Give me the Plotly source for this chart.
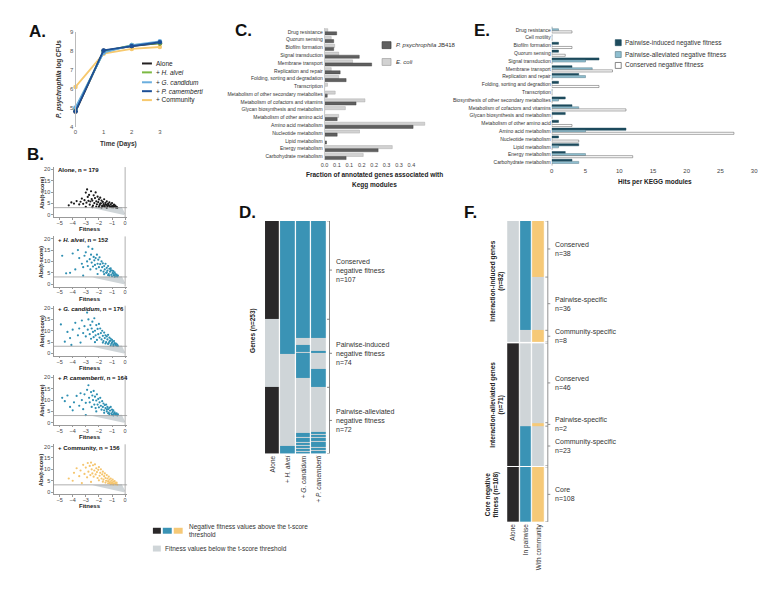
import plotly.graph_objects as go
import numpy as np

W, H = 771, 600
FONT = "Arial"


def fx(p):
    return p / W


def fy(p):
    return 1 - p / H


# ---------------- Panel A data ----------------
days = [0, 1, 2, 3]
cfu_alone = [4.8, 8.0, 8.25, 8.4]
cfu_halvei = [4.95, 7.95, 8.3, 8.4]
cfu_gcand = [5.02, 7.9, 8.3, 8.5]
cfu_pcam = [4.82, 8.02, 8.25, 8.45]
cfu_comm = [6.1, 7.85, 8.1, 8.2]
A_names = ["Alone", "+ <i>H. alvei</i>", "+ <i>G. candidum</i>", "+ <i>P. camemberti</i>", "+ Community"]
A_colors = ["#231f20", "#7cb943", "#6aaede", "#1c4f96", "#f7c96e"]
A_ticks_y = [4, 5, 6, 7, 8, 9]

# ---------------- Panel B data ----------------
B_titles = ["<b>Alone, n = 179</b>", "<b>+ <i>H. alvei</i>, n = 152</b>",
            "<b>+ <i>G. candidum</i>, n = 176</b>", "<b>+ <i>P. camemberti</i>, n = 164</b>",
            "<b>+ Community, n = 156</b>"]
B_colors = ["#1a1a1a", "#2e8fb2", "#2e8fb2", "#2e8fb2", "#f5c56e"]
B_threshold = 3.2
B_wedge_x = [-2.5, -0.25, 0.0, -0.1]
B_wedge_y = [3.0, 3.5, 0.5, 0.0]
B_alone = [(-4.3, 4.2), (-4.1, 5.5), (-3.9, 5.0), (-3.7, 6.1), (-3.5, 4.6), (-3.4, 5.8), (-3.3, 7.2),
           (-3.2, 4.9), (-3.1, 6.5), (-3.0, 9.8), (-2.95, 5.4), (-2.9, 11.2), (-2.85, 7.9), (-2.8, 6.2),
           (-2.75, 8.8), (-2.7, 4.5), (-2.65, 5.9), (-2.6, 10.4), (-2.55, 7.0), (-2.5, 6.3), (-2.45, 4.1),
           (-2.4, 8.6), (-2.35, 5.2), (-2.3, 7.4), (-2.25, 9.9), (-2.2, 6.0), (-2.15, 4.7), (-2.1, 8.0),
           (-2.05, 5.6), (-2.0, 6.8), (-1.95, 4.3), (-1.9, 7.6), (-1.85, 5.1), (-1.8, 6.3), (-1.75, 4.0),
           (-1.7, 5.7), (-1.65, 4.8), (-1.6, 6.9), (-1.55, 3.6), (-1.5, 5.3), (-1.45, 4.4), (-1.4, 6.0),
           (-1.35, 3.9), (-1.3, 5.0), (-1.25, 4.2), (-1.2, 5.5), (-1.15, 3.5), (-1.1, 4.6), (-1.05, 3.8),
           (-1.0, 5.2), (-0.95, 4.0), (-0.9, 3.4), (-0.85, 4.5), (-0.8, 3.7), (-0.75, 4.1), (-0.7, 3.3),
           (-0.65, 3.6), (-0.6, 3.2), (-2.0, 3.5), (-1.8, 3.3), (-2.5, 3.4), (-3.0, 3.6), (-1.6, 4.2),
           (-1.4, 3.2), (-1.2, 3.9), (-1.0, 3.4), (-1.7, 3.8), (-1.3, 4.4), (-0.9, 3.9), (-2.2, 3.7),
           (-1.9, 4.9), (-1.5, 4.7)]
B_halvei = [(-4.8, 12.5), (-4.5, 4.8), (-4.2, 5.0), (-4.0, 13.5), (-3.8, 6.5), (-3.6, 15.0), (-3.5, 11.5),
            (-3.3, 9.0), (-3.2, 7.5), (-3.1, 12.5), (-3.0, 14.0), (-2.9, 10.0), (-2.85, 8.0), (-2.8, 16.5),
            (-2.7, 11.0), (-2.65, 6.5), (-2.6, 13.0), (-2.55, 9.5), (-2.5, 15.5), (-2.45, 7.8), (-2.4, 12.0),
            (-2.35, 10.5), (-2.3, 8.5), (-2.25, 11.5), (-2.2, 6.8), (-2.15, 13.0), (-2.1, 9.0), (-2.05, 10.8),
            (-2.0, 7.5), (-1.95, 11.8), (-1.9, 8.8), (-1.85, 6.0), (-1.8, 10.0), (-1.75, 7.5), (-1.7, 9.2),
            (-1.65, 5.5), (-1.6, 8.0), (-1.55, 6.5), (-1.5, 9.0), (-1.45, 5.0), (-1.4, 7.2), (-1.35, 6.0),
            (-1.3, 8.0), (-1.25, 4.5), (-1.2, 6.8), (-1.15, 5.5), (-1.1, 7.0), (-1.05, 4.2), (-1.0, 6.0),
            (-0.95, 5.0), (-0.9, 5.8), (-0.85, 4.0), (-0.8, 5.2), (-0.75, 4.5), (-0.7, 3.6), (-0.65, 4.2),
            (-0.6, 3.4), (-0.55, 3.8), (-1.3, 4.0), (-1.6, 4.4), (-1.0, 3.5), (-0.9, 4.6), (-1.2, 3.8),
            (-1.4, 5.2), (-1.1, 6.2), (-0.8, 3.3), (-2.1, 4.5), (-3.2, 3.8)]
B_gcand = [(-4.9, 12.8), (-4.6, 5.2), (-4.4, 9.5), (-4.2, 6.8), (-4.0, 10.5), (-3.8, 13.5), (-3.6, 8.0),
           (-3.5, 11.0), (-3.4, 4.8), (-3.3, 14.5), (-3.2, 9.0), (-3.1, 12.0), (-3.0, 7.5), (-2.9, 18.0),
           (-2.85, 10.5), (-2.8, 15.0), (-2.7, 8.5), (-2.65, 12.5), (-2.6, 6.5), (-2.55, 11.0), (-2.5, 14.0),
           (-2.45, 9.5), (-2.4, 7.2), (-2.35, 15.5), (-2.3, 10.0), (-2.25, 8.0), (-2.2, 12.5), (-2.15, 6.0),
           (-2.1, 10.8), (-2.05, 8.5), (-2.0, 13.0), (-1.95, 7.0), (-1.9, 11.0), (-1.85, 9.0), (-1.8, 6.2),
           (-1.75, 10.0), (-1.7, 7.8), (-1.65, 5.5), (-1.6, 9.2), (-1.55, 6.8), (-1.5, 8.0), (-1.45, 5.0),
           (-1.4, 7.5), (-1.35, 6.2), (-1.3, 8.2), (-1.25, 4.6), (-1.2, 7.0), (-1.15, 5.6), (-1.1, 6.5),
           (-1.05, 4.3), (-1.0, 6.0), (-0.95, 5.2), (-0.9, 4.0), (-0.85, 5.5), (-0.8, 4.6), (-0.75, 3.8),
           (-0.7, 4.4), (-0.65, 3.5), (-0.6, 3.9), (-0.55, 3.3), (-1.3, 4.2), (-1.1, 3.6), (-0.9, 3.4),
           (-1.5, 4.4), (-1.7, 4.8), (-1.2, 5.2), (-1.0, 4.8), (-2.3, 5.0), (-4.1, 3.8)]
B_pcam = [(-4.8, 11.0), (-4.6, 9.5), (-4.4, 12.0), (-4.2, 7.0), (-4.0, 5.5), (-3.9, 9.0), (-3.7, 11.8),
          (-3.5, 7.5), (-3.4, 13.0), (-3.3, 10.0), (-3.2, 6.0), (-3.1, 12.5), (-3.0, 8.8), (-2.9, 14.5),
          (-2.8, 16.5), (-2.75, 11.0), (-2.7, 9.0), (-2.6, 13.5), (-2.55, 7.0), (-2.5, 12.0), (-2.45, 10.0),
          (-2.4, 14.0), (-2.35, 8.0), (-2.3, 11.5), (-2.25, 6.5), (-2.2, 9.8), (-2.15, 12.5), (-2.1, 8.0),
          (-2.05, 10.5), (-2.0, 6.8), (-1.95, 9.0), (-1.9, 11.0), (-1.85, 7.5), (-1.8, 5.8), (-1.75, 9.5),
          (-1.7, 7.0), (-1.65, 8.5), (-1.6, 5.5), (-1.55, 7.8), (-1.5, 6.5), (-1.45, 8.0), (-1.4, 5.0),
          (-1.35, 7.0), (-1.3, 6.0), (-1.25, 4.5), (-1.2, 6.6), (-1.15, 5.4), (-1.1, 7.0), (-1.05, 4.2),
          (-1.0, 5.8), (-0.95, 4.8), (-0.9, 5.5), (-0.85, 3.9), (-0.8, 4.6), (-0.75, 4.0), (-0.7, 3.5),
          (-0.65, 4.2), (-0.6, 3.3), (-0.55, 3.7), (-1.3, 4.2), (-1.0, 3.6), (-1.6, 4.4), (-1.2, 3.8),
          (-0.9, 3.3), (-2.2, 5.0), (-3.0, 3.4), (-1.4, 5.9)]
B_comm = [(-4.3, 6.0), (-4.0, 5.0), (-3.9, 8.5), (-3.7, 10.5), (-3.5, 7.0), (-3.4, 9.5), (-3.2, 12.0),
          (-3.1, 8.0), (-3.0, 10.8), (-2.9, 6.5), (-2.85, 12.8), (-2.8, 9.0), (-2.7, 11.5), (-2.65, 7.5),
          (-2.6, 13.0), (-2.55, 10.0), (-2.5, 8.2), (-2.45, 11.8), (-2.4, 6.8), (-2.35, 9.5), (-2.3, 12.2),
          (-2.25, 7.8), (-2.2, 10.5), (-2.15, 8.8), (-2.1, 6.2), (-2.05, 9.8), (-2.0, 11.0), (-1.95, 7.2),
          (-1.9, 8.5), (-1.85, 10.0), (-1.8, 6.0), (-1.75, 7.8), (-1.7, 9.0), (-1.65, 5.5), (-1.6, 7.0),
          (-1.55, 8.2), (-1.5, 6.2), (-1.45, 5.0), (-1.4, 7.5), (-1.35, 6.0), (-1.3, 4.8), (-1.25, 6.8),
          (-1.2, 5.5), (-1.15, 4.4), (-1.1, 6.0), (-1.05, 5.0), (-1.0, 4.2), (-0.95, 5.5), (-0.9, 4.6),
          (-0.85, 3.8), (-0.8, 4.8), (-0.75, 4.0), (-0.7, 3.5), (-0.65, 4.2), (-0.6, 3.3), (-1.3, 3.9),
          (-1.1, 3.5), (-1.5, 4.2), (-1.7, 4.6), (-0.9, 3.3), (-1.2, 4.0), (-2.0, 5.2), (-2.6, 4.5),
          (-3.3, 4.0), (-1.0, 3.7)]
B_points = [B_alone, B_halvei, B_gcand, B_pcam, B_comm]

# ---------------- Panel C data ----------------
C_cats = ["Drug resistance", "Quorum sensing", "Biofilm formation", "Signal transduction",
          "Membrane transport", "Replication and repair", "Folding, sorting and degradation",
          "Transcription", "Metabolism of other secondary metabolites",
          "Metabolism of cofactors and vitamins", "Glycan biosynthesis and metabolism",
          "Metabolism of other amino acid", "Amino acid metabolism", "Nucleotide metabolism",
          "Lipid metabolism", "Energy metabolism", "Carbohydrate metabolism"]
C_psych = [0.049, 0.037, 0.037, 0.14, 0.19, 0.063, 0.087, 0.0, 0.011, 0.127, 0.0, 0.051, 0.357,
           0.051, 0.008, 0.216, 0.087]
C_ecoli = [0.013, 0.027, 0.041, 0.057, 0.113, 0.027, 0.057, 0.012, 0.043, 0.163, 0.084, 0.057, 0.404,
           0.141, 0.0, 0.273, 0.156]
C_tickvals = [0, 0.05, 0.1, 0.15, 0.2, 0.25, 0.3, 0.35]
C_ticktext = ["0.0", "0.1", "0.1", "0.2", "0.2", "0.3", "0.3", "0.4"]

# ---------------- Panel E data ----------------
E_cats = ["Drug resistance", "Cell motility", "Biofilm formation", "Quorum sensing", "Signal transduction",
          "Membrane transport", "Replication and repair", "Folding, sorting and degradtion", "Transcription",
          "Biosynthesis of other secondary metabolites", "Metabolism of cofactors and vitamins",
          "Glycan biosynthesis and metabolism", "Metabolism of other amino acid", "Amino acid metabolism",
          "Nucleotide metabolism", "Lipid metabolism", "Energy metabolism", "Carbohydrate metabolism"]
E_induced = [0, 0, 1, 1, 7, 3, 4, 1, 0, 2, 3, 2, 1, 11, 1, 4, 2, 3]
E_alleviated = [1, 0, 0, 0, 5, 6, 5, 0, 0, 1, 4, 0, 0, 5, 0, 1, 5, 4]
E_conserved = [3, 0, 3, 2, 0, 9, 0, 7, 0, 0, 11, 0, 3, 27, 4, 0, 12, 0]
E_names = ["Pairwise-induced negative fitness", "Pairwise-alleviated negative fitness",
           "Conserved negative fitness"]

# ---------------- Panel D data ----------------
D_n = 253
D_group_sizes = [107, 74, 72]
D_group_labels = ["Conserved<br>negative fitness<br>n=107", "Pairwise-induced<br>negative fitness<br>n=74",
                  "Pairwise-alleviated<br>negative fitness<br>n=72"]
D_columns = ["Alone", "+ <i>H. alvei</i>", "+ <i>G. candidum</i>", "+ <i>P. camemberti</i>"]
D_alone_black = [(0, 106), (181, 252)]
D_halvei_blue = [(0, 144), (245, 252)]
D_gcand_blue = [(0, 126), (135, 141), (144, 170), (230, 234), (236, 239), (241, 243), (245, 246),
                (248, 249), (251, 252)]
D_pcam_blue = [(0, 126), (141, 143), (161, 180), (229, 231), (233, 234), (236, 238), (240, 241),
               (243, 245), (247, 248), (250, 252)]

# ---------------- Panel F data ----------------
F_columns = ["Alone", "In pairwise", "With community"]
F_induced_names = ["Conserved", "Pairwise-specific", "Community-specific"]
F_induced_sizes = [38, 36, 8]
F_induced_codes = [(0, 2, 3), (0, 2, 0), (0, 0, 3)]
F_allev_names = ["Conserved", "Pairwise-specific", "Community-specific"]
F_allev_sizes = [46, 2, 23]
F_allev_codes = [(1, 0, 0), (1, 0, 3), (1, 2, 0)]
F_core_names = ["Core"]
F_core_sizes = [108]
F_core_codes = [(1, 2, 3)]
F_block_titles = ["Interaction-induced genes<br>(n=82)", "Interaction-alleviated genes<br>(n=71)",
                  "Core negative<br>fitness (n=108)"]

# ---------------- colours ----------------
GRAY = "#cfd5d8"
BLACK = "#2a2829"
BLUE = "#3a93b5"
YELLOW = "#f6c977"
CS = [[0, GRAY], [1 / 6, GRAY], [1 / 6, BLACK], [0.5, BLACK], [0.5, BLUE], [5 / 6, BLUE],
      [5 / 6, YELLOW], [1, YELLOW]]
TXT = "#333333"

fig = go.Figure()
shapes = []
anns = []


def ann(x, y, text, size=7, xanchor="left", yanchor="middle", color=TXT, angle=0, align="left"):
    anns.append(dict(x=fx(x), y=fy(y), xref="paper", yref="paper", text=text, showarrow=False,
                     xanchor=xanchor, yanchor=yanchor, textangle=angle, align=align, borderpad=0,
                     font=dict(family=FONT, size=size, color=color)))


def hline_px(x0, x1, y, color, width=2):
    shapes.append(dict(type="line", xref="paper", yref="paper", x0=fx(x0), x1=fx(x1), y0=fy(y), y1=fy(y),
                       line=dict(color=color, width=width)))


def rect_px(x0, y0, x1, y1, fill, line="rgba(0,0,0,0)"):
    shapes.append(dict(type="rect", xref="paper", yref="paper", x0=fx(x0), x1=fx(x1), y0=fy(y1), y1=fy(y0),
                       fillcolor=fill, line=dict(color=line, width=0.7)))


# ================= Panel A =================
A_series = [cfu_alone, cfu_halvei, cfu_gcand, cfu_pcam, cfu_comm]
for idx in [4, 0, 1, 2, 3]:
    fig.add_trace(go.Scatter(x=days, y=A_series[idx], mode="lines+markers",
                             line=dict(color=A_colors[idx], width=1.8),
                             marker=dict(color=A_colors[idx], size=4.5), cliponaxis=False,
                             showlegend=False, xaxis="x", yaxis="y"))
lay = dict(
    xaxis=dict(domain=[fx(64), fx(149)], range=[0, 3], tickvals=days, showgrid=False, zeroline=False,
               showline=False, ticks="", tickfont=dict(size=6, color="#555"), anchor="y"),
    yaxis=dict(domain=[fy(117), fy(21)], range=[4, 9], tickvals=A_ticks_y, showgrid=False, zeroline=False,
               showline=True, linecolor="#bbbbbb", linewidth=0.8, ticks="",
               tickfont=dict(size=6, color="#555"), anchor="x"),
)
ann(107, 134, "<b>Time (Days)</b>", size=6.5, xanchor="center")
ann(48, 69, "<b><i>P. psychrophila</i> log CFUs</b>", size=6.5, xanchor="center", angle=-90)
A_legend_y = [53, 62, 72, 81, 90]
for name, col, yy in zip(A_names, A_colors, A_legend_y):
    hline_px(131, 141, yy, col, 2)
    ann(144, yy, name, size=6.5, color="#222")

# ================= Panel B =================
for i in range(5):
    k = i + 2
    off = 70 * i
    xs = [p[0] for p in B_points[i]]
    ys = [p[1] for p in B_points[i]]
    fig.add_trace(go.Scatter(x=B_wedge_x, y=B_wedge_y, fill="toself", fillcolor=GRAY, mode="lines",
                             line=dict(width=0, color=GRAY), showlegend=False, hoverinfo="skip",
                             xaxis=f"x{k}", yaxis=f"y{k}"))
    fig.add_trace(go.Scatter(x=xs, y=ys, mode="markers", marker=dict(size=2.2, color=B_colors[i]),
                             showlegend=False, xaxis=f"x{k}", yaxis=f"y{k}"))
    lay[f"xaxis{k}"] = dict(domain=[fx(42), fx(116)], range=[-5.45, 0.15], tickvals=[-5, -4, -3, -2, -1, 0],
                            showgrid=False, zeroline=False, showline=True, linecolor="#999", linewidth=0.7,
                            ticks="outside", ticklen=1.5, tickcolor="#999", ticklabelstandoff=-1,
                            tickfont=dict(size=5.5, color="#444"), anchor=f"y{k}")
    lay[f"yaxis{k}"] = dict(domain=[fy(208.3 + off), fy(157.7 + off)], range=[-1, 21],
                            tickvals=[0, 5, 10, 15, 20], showgrid=False, zeroline=False, showline=True,
                            linecolor="#999", linewidth=0.7, ticks="outside", ticklen=1.5, tickcolor="#999",
                            tickfont=dict(size=5.5, color="#444"), anchor=f"x{k}")
    shapes.append(dict(type="line", xref=f"x{k} domain", yref=f"y{k}", x0=0, x1=1, y0=B_threshold,
                       y1=B_threshold, line=dict(color="#9a9a9a", width=0.8)))
    shapes.append(dict(type="line", xref=f"x{k}", yref=f"y{k} domain", x0=0, x1=0, y0=0, y1=1,
                       line=dict(color="#9a9a9a", width=0.8)))
    ann(45, 161 + off, B_titles[i], size=6, color="#111")
    ann(79, 220.5 + off, "<b>Fitness</b>", size=6, xanchor="center", color="#222")
    ann(30, 183 + off, "<b>Abs(t-score)</b>", size=5.5, xanchor="center", angle=-90, color="#222")

# ================= Panel C =================
fig.add_trace(go.Bar(y=C_cats, x=C_ecoli, orientation="h", showlegend=False,
                     marker=dict(color="#d2d2d2", line=dict(color="#a0a0a0", width=0.4)),
                     xaxis="x7", yaxis="y7"))
fig.add_trace(go.Bar(y=C_cats, x=C_psych, orientation="h", showlegend=False,
                     marker=dict(color="#606060", line=dict(color="#3a3a3a", width=0.4)),
                     xaxis="x7", yaxis="y7"))
lay["xaxis7"] = dict(domain=[fx(315), fx(420)], range=[0, 0.42], tickvals=C_tickvals, ticktext=C_ticktext,
                     showgrid=False, zeroline=False, showline=False, ticks="",
                     tickfont=dict(size=5.5, color="#444"), anchor="y7")
lay["yaxis7"] = dict(domain=[fy(150.9), fy(17.06)], categoryorder="array", categoryarray=C_cats,
                     autorange="reversed", showgrid=False, zeroline=False, showline=True, linecolor="#cccccc",
                     linewidth=0.6, ticks="", tickfont=dict(size=5, color="#333"), anchor="x7")
ann(365, 166, "<b>Fraction of annotated genes associated with</b>", size=6.5, xanchor="center", color="#222")
ann(365, 176, "<b>Kegg modules</b>", size=6.5, xanchor="center", color="#222")
rect_px(373, 31, 382, 38, "#606060", "#3a3a3a")
ann(386, 34, "<i>P. psychrophila</i> JB418", size=6)
rect_px(373, 48, 382, 55, "#d2d2d2", "#a0a0a0")
ann(386, 52, "<i>E. coli</i>", size=6)

# ================= Panel E =================
E_cols = ["#1d4b5d", "#8fbfd0", "#ffffff"]
E_lines = ["#1d4b5d", "#5d7f8c", "#555555"]
for vals, c, lc in zip([E_induced, E_alleviated, E_conserved], E_cols, E_lines):
    fig.add_trace(go.Bar(y=E_cats, x=vals, orientation="h", showlegend=False,
                         marker=dict(color=c, line=dict(color=lc, width=0.5)), xaxis="x8", yaxis="y8"))
lay["xaxis8"] = dict(domain=[fx(544), fx(751.4)], range=[0, 30.5], tickvals=[0, 5, 10, 15, 20, 25, 30],
                     showgrid=False, zeroline=False, showline=False, ticks="",
                     tickfont=dict(size=6, color="#444"), anchor="y8")
lay["yaxis8"] = dict(domain=[fy(156.9), fy(15.06)], categoryorder="array", categoryarray=E_cats,
                     autorange="reversed", showgrid=False, zeroline=False, showline=False, ticks="",
                     tickfont=dict(size=5, color="#333"), anchor="x8")
ann(648, 173, "<b>Hits per KEGG modules</b>", size=6.5, xanchor="center", color="#222")
E_leg_y = [32, 44, 55]
for name, c, lc, yy in zip(E_names, E_cols, E_lines, E_leg_y):
    rect_px(608, yy - 3, 614, yy + 3, c, lc)
    ann(617, yy, name, size=6.5)

# ================= Panel D =================
Z = np.zeros((D_n, 4))
for a, b in D_alone_black:
    Z[a:b + 1, 0] = 1
for col, ints in enumerate([D_halvei_blue, D_gcand_blue, D_pcam_blue], start=1):
    for a, b in ints:
        Z[a:b + 1, col] = 2
fig.add_trace(go.Heatmap(z=Z, x=[0, 1, 2, 3], y=list(range(D_n)), colorscale=CS, zmin=0, zmax=3,
                         showscale=False, xgap=1.2, hoverinfo="skip", xaxis="x9", yaxis="y9"))
lay["xaxis9"] = dict(domain=[fx(255), fx(317)], range=[-0.5, 3.5], tickvals=[0, 1, 2, 3], ticktext=D_columns,
                     tickangle=-90, showgrid=False, zeroline=False, showline=False, ticks="",
                     tickfont=dict(size=6.5, color="#333"), anchor="y9")
lay["yaxis9"] = dict(domain=[fy(447), fy(212)], range=[D_n - 0.5, -0.5], showticklabels=False,
                     showgrid=False, zeroline=False, showline=False, ticks="", anchor="x9")
shapes.append(dict(type="line", xref="paper", yref="y9", x0=fx(320), x1=fx(320), y0=-0.5, y1=D_n - 0.5,
                   line=dict(color="#666", width=0.8)))
edge = -0.5
for size, lab in zip(D_group_sizes, D_group_labels):
    shapes.append(dict(type="line", xref="paper", yref="y9", x0=fx(317.5), x1=fx(320), y0=edge, y1=edge,
                       line=dict(color="#666", width=0.8)))
    mid = edge + size / 2
    shapes.append(dict(type="line", xref="paper", yref="y9", x0=fx(320), x1=fx(322.5), y0=mid, y1=mid,
                       line=dict(color="#666", width=0.8)))
    anns.append(dict(x=fx(325), y=mid, xref="paper", yref="y9", text=lab, showarrow=False, xanchor="left",
                     yanchor="middle", align="left", font=dict(family=FONT, size=7, color="#333")))
    edge += size
shapes.append(dict(type="line", xref="paper", yref="y9", x0=fx(317.5), x1=fx(320), y0=edge, y1=edge,
                   line=dict(color="#666", width=0.8)))
ann(243, 323, "<b>Genes (n=253)</b>", size=6.5, xanchor="center", angle=-90, color="#222")

# ================= Panel F =================
F_blocks = [(F_induced_names, F_induced_sizes, F_induced_codes),
            (F_allev_names, F_allev_sizes, F_allev_codes),
            (F_core_names, F_core_sizes, F_core_codes)]
F_domains = [(212, 334.5), (335.5, 459.5), (460.5, 516)]
F_title_x = [497, 497, 493]
for j, ((names, sizes, codes), (top, bot)) in enumerate(zip(F_blocks, F_domains)):
    k = 10 + j
    rows = []
    for size, code in zip(sizes, codes):
        rows.extend([list(code)] * size)
    zf = np.array(rows, dtype=float)
    n = len(rows)
    fig.add_trace(go.Heatmap(z=zf, x=[0, 1, 2], y=list(range(n)), colorscale=CS, zmin=0, zmax=3,
                             showscale=False, xgap=1.2, hoverinfo="skip", xaxis=f"x{k}", yaxis=f"y{k}"))
    lay[f"xaxis{k}"] = dict(domain=[fx(499), fx(537)], range=[-0.5, 2.5], tickvals=[0, 1, 2],
                            ticktext=F_columns, tickangle=-90, showticklabels=(j == 2), showgrid=False,
                            zeroline=False, showline=False, ticks="", tickfont=dict(size=6.5, color="#333"),
                            anchor=f"y{k}")
    lay[f"yaxis{k}"] = dict(domain=[fy(bot), fy(top)], range=[n - 0.5, -0.5], showticklabels=False,
                            showgrid=False, zeroline=False, showline=False, ticks="", anchor=f"x{k}")
    edge = -0.5
    for size, name in zip(sizes, names):
        shapes.append(dict(type="line", xref="paper", yref=f"y{k}", x0=fx(537.5), x1=fx(540), y0=edge,
                           y1=edge, line=dict(color="#777", width=0.8)))
        mid = edge + size / 2
        shapes.append(dict(type="line", xref="paper", yref=f"y{k}", x0=fx(540), x1=fx(542.5), y0=mid,
                           y1=mid, line=dict(color="#777", width=0.8)))
        anns.append(dict(x=fx(545), y=mid, xref="paper", yref=f"y{k}", text=f"{name}<br>n={size}",
                         showarrow=False, xanchor="left", yanchor="middle", align="left",
                         font=dict(family=FONT, size=7, color="#333")))
        edge += size
    shapes.append(dict(type="line", xref="paper", yref=f"y{k}", x0=fx(537.5), x1=fx(540), y0=edge, y1=edge,
                       line=dict(color="#777", width=0.8)))
    ann(F_title_x[j], (top + bot) / 2, f"<b>{F_block_titles[j]}</b>", size=6.5, xanchor="right",
        angle=-90, color="#222", align="center")
shapes.append(dict(type="line", xref="paper", yref="paper", x0=fx(540), x1=fx(540), y0=fy(516), y1=fy(212),
                   line=dict(color="#777", width=0.8)))

# ================= bottom legend =================
rect_px(142, 522, 150, 528, BLACK)
rect_px(152, 522, 161, 528, BLUE)
rect_px(163, 522, 172, 528, YELLOW)
ann(177, 524.5, "Negative fitness values above the t-score<br>threshold", size=6.5, color="#333")
rect_px(142, 540, 150, 546, GRAY)
ann(153, 543, "Fitness values below the t-score threshold", size=6.5, color="#333")

# ================= panel letters =================
for letter, x, y in [("A.", 16, 21), ("B.", 14, 145), ("C.", 224, 20), ("D.", 228, 204), ("E.", 465, 20),
                     ("F.", 455, 204)]:
    ann(x, y, f"<b>{letter}</b>", size=17, color="#111")

fig.update_layout(width=W, height=H, margin=dict(l=0, r=0, t=0, b=0), paper_bgcolor="white",
                  plot_bgcolor="white", font=dict(family=FONT, color=TXT), barmode="group", bargap=0.2,
                  bargroupgap=0, showlegend=False, shapes=shapes, annotations=anns, **lay)
fig.write_html("out.html")
